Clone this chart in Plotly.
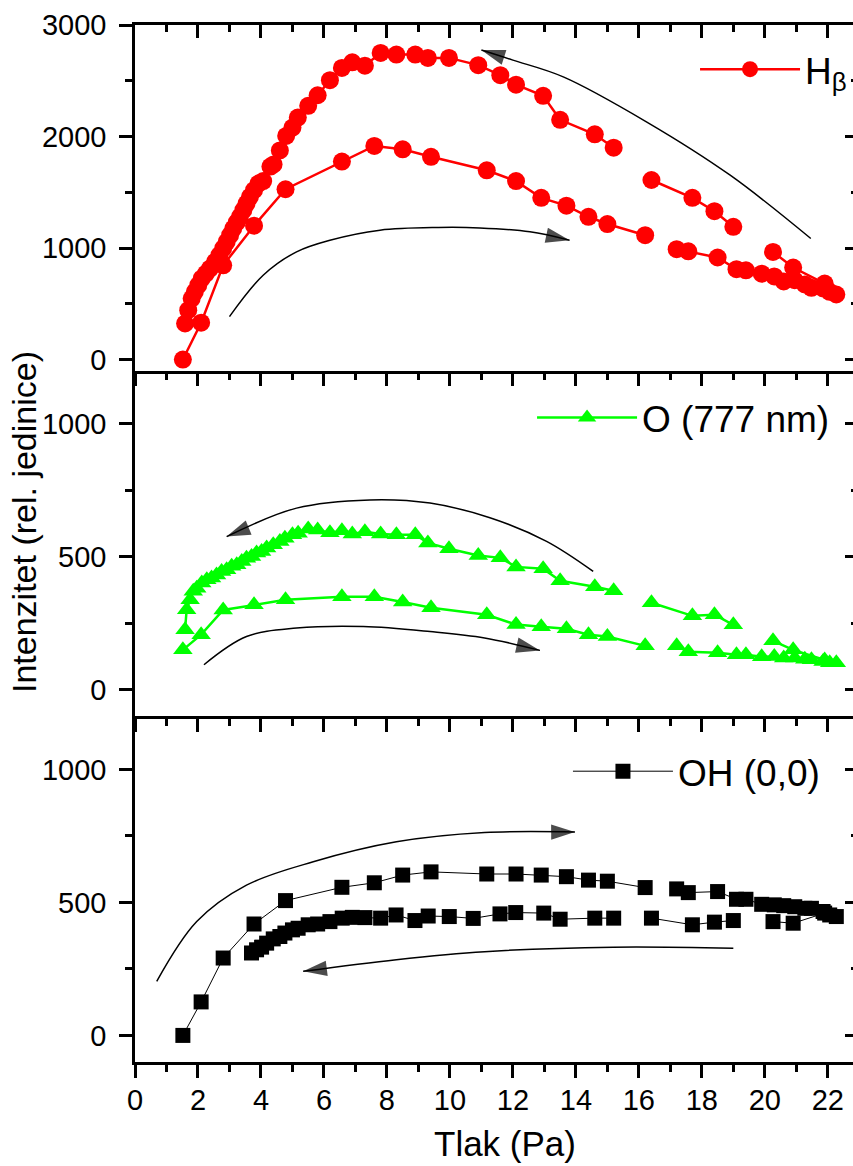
import plotly.graph_objects as go

# ---------------- data (pressure in Pa, intensity in rel. units) ----------------
# increasing pressure run (shared pressures)
p_fwd = [1.52, 2.1, 2.8, 3.78, 4.78, 6.57, 7.6, 8.5, 9.4, 11.17,
         12.1, 12.9, 13.7, 14.4, 15.0, 16.2, None, 17.2, 17.57, 18.5,
         19.1, 19.4, 19.9, 20.3, 20.6, 20.95, 21.27, 21.48, 21.85, 22.06, 22.27]
hb_fwd = [0, 330, 845, 1200, 1527, 1775, 1915, 1885, 1818, 1697,
          1600, 1450, 1380, 1280, 1215, 1115, None, 990, 970, 915,
          810, 800, 770, 745, 700, 711, 673, 643, 637, 607, 583]
o_fwd = [150, 207, 300, 320, 338, 350, 350, 330, 308, 282,
         245, 237, 229, 207, 200, 165, None, 165, 143, 139,
         132, 132, 124, 125, 119, 119, 115, 113, 106, 102, 102]
oh_fwd = [0, 126, 291, 419, 507, 557, 574, 603, 615, 607,
          607, 603, 597, 584, 580, 556, None, 551, 537, 541,
          512, 512, 493, 491, 488, 484, 478, 478, 466, 453, 447]

# decreasing pressure run
hb_p_bwd = [21.9, 20.9, 20.26, None, 19.0, 18.4, 17.7, 16.4, None,
            15.2, 14.6, 13.5, 12.96, 12.1, 11.6, 10.9,
            9.97, 9.3, 8.9, 8.3, 7.8, 7.3, 6.9, 6.57, 6.19, 5.8, 5.5, 5.17, 5.0,
            4.8, 4.6, 4.4, 4.3, 4.07, 3.92, 3.78, 3.65, 3.54, 3.44, 3.33, 3.23, 3.12,
            3.02, 2.91, 2.80, 2.68, 2.54, 2.38, 2.25, 2.12, 2.01, 1.90, 1.80, 1.69, 1.59]
hb_bwd = [681, 825, 965, None, 1190, 1330, 1450, 1610, None,
          1900, 2020, 2150, 2365, 2465, 2550, 2640,
          2705, 2705, 2735, 2735, 2750, 2635, 2665, 2615, 2505, 2370, 2275, 2170, 2080,
          2005, 1875, 1750, 1730, 1600, 1578, 1519, 1459, 1399, 1339, 1280, 1229, 1175,
          1115, 1055, 996, 936, 876, 816, 771, 727, 667, 607, 547, 442, 323]

o_p_bwd = [21.9, 20.9, 20.26, None, 19.0, 18.4, 17.7, 16.4, None,
           15.2, 14.6, 13.5, 12.96, 12.1, 11.6, 10.9,
           9.97, 9.3, 8.9, 8.3, 7.8, 7.3, 6.9, 6.57, 6.19, 5.8, 5.5, 5.18, 5.0,
           4.76, 4.6, 4.39, 4.18, 4.02, 3.86, 3.70, 3.54, 3.39, 3.23, 3.07, 2.91,
           2.75, 2.59, 2.43, 2.28, 2.12, 1.96, 1.85, 1.75, 1.64, 1.59]
o_bwd = [112, 150, 184, None, 244, 282, 278, 327, None,
         372, 387, 410, 455, 462, 496, 505,
         530, 552, 583, 583, 586, 594, 586, 598, 590, 601, 605, 589, 583,
         570, 558, 545, 533, 520, 514, 501, 495, 482, 470, 464, 451,
         445, 432, 420, 414, 401, 382, 370, 338, 301, 226]

oh_p_bwd = [21.9, 20.9, 20.26, None, 19.0, 18.4, 17.7, 16.4, None,
            15.2, 14.6, 13.5, 12.98, 12.09, 11.59, 10.74,
            9.98, 9.31, 8.89, 8.29, 7.8, 7.3, 6.9, 6.58, 6.19, 5.8, 5.5, 5.18, 5.0,
            4.76, 4.6, 4.39, 4.18, 4.02, 3.86, 3.70]
oh_bwd = [460, 422, 428, None, 432, 426, 416, 441, None,
          441, 441, 437, 460, 462, 457, 440,
          447, 449, 432, 453, 441, 443, 444, 441, 428, 419, 416, 403, 397,
          385, 372, 363, 347, 332, 322, 310]

# guide arrows (direction of the pressure sweep)
arr_hb_up_x = [3.0, 4.07, 5.13, 6.19, 7.78, 9.63, 10.95, 12.54, 13.8]
arr_hb_up_y = [385, 756, 966, 1070, 1160, 1184, 1180, 1145, 1070]
arr_hb_dn_x = [21.46, 18.9, 16.24, 13.6, 12.0, 11.0]
arr_hb_dn_y = [1085, 1653, 2132, 2535, 2685, 2775]
arr_o_dn_x = [14.55, 13.07, 11.27, 9.37, 7.46, 5.13, 2.91]
arr_o_dn_y = [445, 558, 647, 702, 714, 683, 576]
arr_o_up_x = [2.19, 3.54, 5.13, 7.25, 9.37, 11.1, 12.86]
arr_o_up_y = [94, 200, 232, 238, 219, 195, 148]
arr_oh_up_x = [0.69, 1.96, 3.54, 5.66, 8.3, 11.1, 13.97]
arr_oh_up_y = [203, 428, 565, 653, 728, 763, 765]
arr_oh_dn_x = [19.0, 15.18, 11.1, 8.3, 5.34]
arr_oh_dn_y = [328, 332, 315, 285, 241]

x_range = [0, 22.8]
y_ranges = [[-100, 3000], [-100, 1200], [-100, 1200]]
y_dticks = [1000, 500, 500]

FONT = "Liberation Sans, Arial, sans-serif"

fig = go.Figure()


def add_series(x, y, name, color, symbol, size, lw, legend, xa, ya):
    fig.add_trace(go.Scatter(
        x=x, y=y, mode="lines+markers", name=name,
        line=dict(color=color, width=lw),
        marker=dict(symbol=symbol, size=size, color=color, line=dict(width=0)),
        xaxis=xa, yaxis=ya, legend=legend, hoverinfo="x+y"))


add_series(p_fwd + hb_p_bwd, hb_fwd + hb_bwd, "H<sub>β</sub>", "#ff0000",
           "circle", 18, 2.5, "legend", "x", "y")
add_series(p_fwd + o_p_bwd, o_fwd + o_bwd, "O (777 nm)", "#00ff00",
           "triangle-up", 17, 2.5, "legend2", "x2", "y2")
add_series(p_fwd + oh_p_bwd, oh_fwd + oh_bwd, "OH (0,0)", "#000000",
           "square", 15, 1, "legend3", "x3", "y3")


def add_arrow(xs, ys, xa, ya):
    n = len(xs)
    fig.add_trace(go.Scatter(
        x=xs, y=ys, mode="lines+markers",
        line=dict(color="black", width=1.5, shape="spline", smoothing=1),
        marker=dict(symbol="arrow", angleref="previous", color="black",
                    size=[0] * (n - 1) + [25], line=dict(width=0)),
        showlegend=False, hoverinfo="skip", xaxis=xa, yaxis=ya))


add_arrow(arr_hb_up_x, arr_hb_up_y, "x", "y")
add_arrow(arr_hb_dn_x, arr_hb_dn_y, "x", "y")
add_arrow(arr_o_dn_x, arr_o_dn_y, "x2", "y2")
add_arrow(arr_o_up_x, arr_o_up_y, "x2", "y2")
add_arrow(arr_oh_up_x, arr_oh_up_y, "x3", "y3")
add_arrow(arr_oh_dn_x, arr_oh_dn_y, "x3", "y3")

# dummy traces so that overlay axes are drawn
for xa, ya in [("x4", "y"), ("x", "y4"), ("x2", "y5"), ("x3", "y6")]:
    fig.add_trace(go.Scatter(x=[None], y=[None], xaxis=xa, yaxis=ya,
                             showlegend=False, hoverinfo="skip"))

LW = 2.5
tickfont = dict(family=FONT, size=29, color="black")


def xaxis_cfg(labels, anchor):
    return dict(range=x_range, domain=[0, 1], anchor=anchor, dtick=2, tick0=0,
                ticks="outside", ticklen=13, tickwidth=LW, tickcolor="black",
                minor=dict(dtick=1, ticks="outside", ticklen=7, tickwidth=LW, tickcolor="black"),
                showline=True, linewidth=LW, linecolor="black",
                showgrid=False, zeroline=False, showticklabels=labels,
                tickfont=tickfont, ticklabelstandoff=-3)


domains = [[2 / 3, 1], [1 / 3, 2 / 3], [0, 1 / 3]]


def yaxis_cfg(i, anchor):
    return dict(range=y_ranges[i], domain=domains[i], anchor=anchor,
                dtick=y_dticks[i], tick0=0,
                ticks="outside", ticklen=13, tickwidth=LW, tickcolor="black",
                minor=dict(dtick=y_dticks[i] / 2, ticks="outside", ticklen=7,
                           tickwidth=LW, tickcolor="black"),
                showline=True, linewidth=LW, linecolor="black",
                showgrid=False, zeroline=False, tickfont=tickfont,
                ticklabelstandoff=7)


def yright_cfg(i, over):
    return dict(range=y_ranges[i], overlaying=over, side="right", anchor="x",
                dtick=y_dticks[i], tick0=0, ticks="inside", ticklen=8,
                tickwidth=LW, tickcolor="black",
                minor=dict(dtick=y_dticks[i] / 2, ticks="inside", ticklen=2,
                           tickwidth=LW, tickcolor="black"),
                showline=False, showgrid=False, zeroline=False,
                showticklabels=False)


legend_common = dict(bgcolor="rgba(0,0,0,0)", borderwidth=0, itemwidth=100,
                     font=dict(family=FONT, size=37, color="black"),
                     xanchor="left", yanchor="middle")

fig.update_layout(
    width=853, height=1166,
    margin=dict(l=135, r=0, t=25, b=104, autoexpand=False),
    paper_bgcolor="white", plot_bgcolor="white",
    font=dict(family=FONT, color="black"),
    xaxis=xaxis_cfg(False, "y"),
    xaxis2=xaxis_cfg(False, "y2"),
    xaxis3=xaxis_cfg(True, "y3"),
    xaxis4=dict(range=x_range, overlaying="x", side="top", anchor="y",
                dtick=2, tick0=0, ticks="inside", ticklen=13, tickwidth=LW,
                tickcolor="black",
                minor=dict(dtick=1, ticks="inside", ticklen=7, tickwidth=LW,
                           tickcolor="black"),
                showline=True, linewidth=LW, linecolor="black",
                showgrid=False, zeroline=False, showticklabels=False),
    yaxis=yaxis_cfg(0, "x"),
    yaxis2=yaxis_cfg(1, "x2"),
    yaxis3=yaxis_cfg(2, "x3"),
    yaxis4=yright_cfg(0, "y"),
    yaxis5=dict(yright_cfg(1, "y2"), anchor="x2"),
    yaxis6=dict(yright_cfg(2, "y3"), anchor="x3"),
    legend=dict(legend_common, x=0.78, y=0.957),
    legend2=dict(legend_common, x=0.553, y=0.621),
    legend3=dict(legend_common, x=0.603, y=0.280),
    showlegend=True,
)

fig.add_annotation(text="Intenzitet (rel. jedinice)", textangle=-90,
                   xref="paper", yref="paper", x=(24 - 135) / 718, y=0.5207,
                   xanchor="center", yanchor="middle", showarrow=False,
                   font=dict(family=FONT, size=34, color="black"))
fig.add_annotation(text="Tlak (Pa)", xref="paper", yref="paper",
                   x=(505 - 135) / 718, y=(1062 - 1143) / 1037,
                   xanchor="center", yanchor="middle", showarrow=False,
                   font=dict(family=FONT, size=35, color="black"))

fig.write_html("out.html",
               config={"displayModeBar": False},
               post_script="document.body.style.margin='0';"
                           "document.body.style.padding='0';"
                           "document.body.style.overflow='hidden';")
